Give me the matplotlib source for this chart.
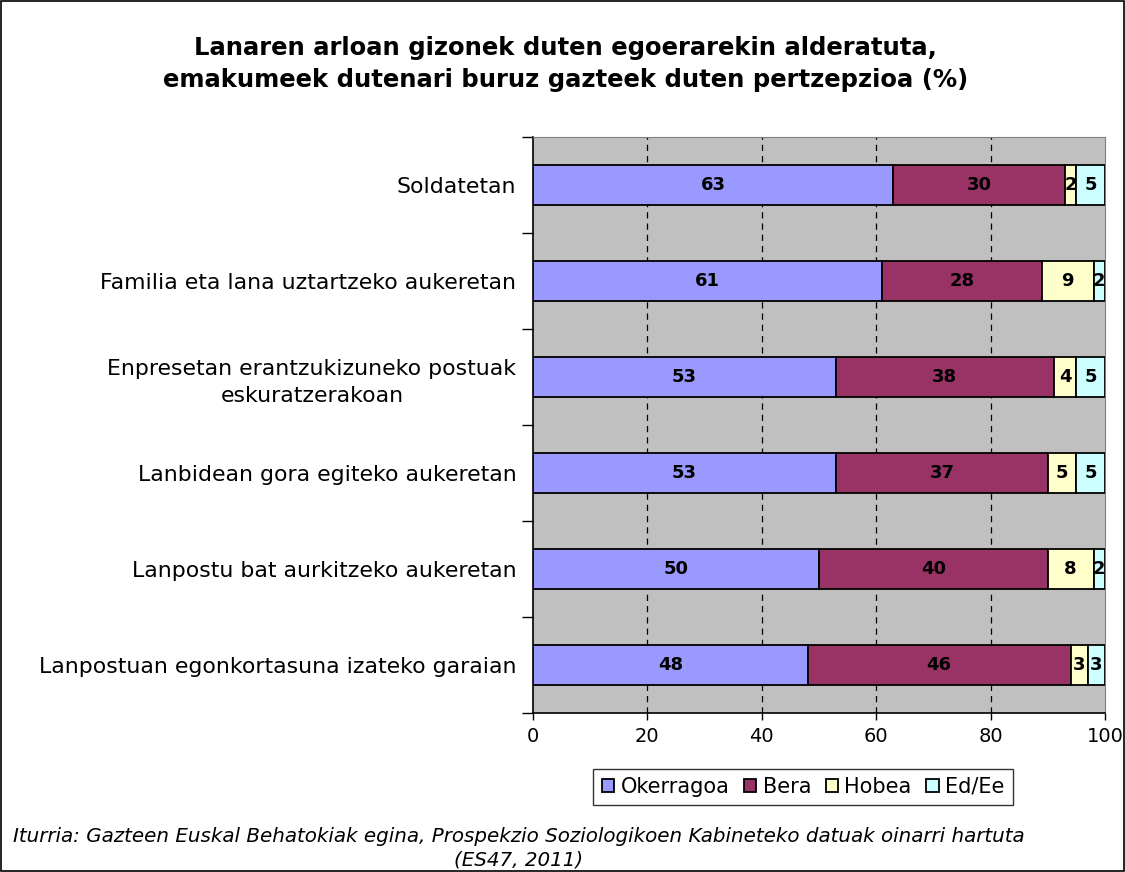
import matplotlib.pyplot as plt
import numpy as np
from matplotlib.patches import Rectangle

categories = ['Soldatetan',
              'Familia eta lana uztartzeko aukeretan',
              'Enpresetan erantzukizuneko postuak\neskuratzerakoan',
              'Lanbidean gora egiteko aukeretan',
              'Lanpostu bat aurkitzeko aukeretan',
              'Lanpostuan egonkortasuna izateko garaian']
okerragoa = [63, 61, 53, 53, 50, 48]
bera = [30, 28, 38, 37, 40, 46]
hobea = [2, 9, 4, 5, 8, 3]
ed_ee = [5, 2, 5, 5, 2, 3]

series = [('Okerragoa', okerragoa, '#9999FF'),
          ('Bera', bera, '#993366'),
          ('Hobea', hobea, '#FFFFCC'),
          ('Ed/Ee', ed_ee, '#CCFFFF')]

fig = plt.figure(figsize=(11.25, 8.72), dpi=100)
ax = fig.add_axes([533 / 1125, 1 - 713 / 872, 572 / 1125, 576 / 872])
ax.set_facecolor('#C0C0C0')

y = np.arange(len(categories))
left = np.zeros(len(categories))
for name, vals, color in series:
    vals = np.array(vals)
    ax.barh(y, vals, left=left, height=0.42, color=color, edgecolor='black',
            linewidth=1.3, label=name, zorder=3)
    for yi, l, v in zip(y, left, vals):
        ax.text(l + v / 2, yi, str(v), ha='center', va='center',
                fontsize=13, fontweight='bold', color='black', zorder=4)
    left = left + vals

ax.set_xlim(0, 100)
ax.set_ylim(len(categories) - 0.5, -0.5)
ax.set_xticks([0, 20, 40, 60, 80, 100])
ax.tick_params(axis='x', labelsize=14, length=5, width=1, pad=5)
for gx in [20, 40, 60, 80]:
    ax.axvline(gx, color='black', linestyle=(0, (5, 4)), linewidth=0.9, zorder=1)

ax.set_yticks(y)
ax.set_yticklabels(categories, fontsize=15.8, ha='right', multialignment='center',
                   linespacing=1.45)
ax.tick_params(axis='y', which='major', length=0, pad=12)
ax.set_yticks(np.arange(-0.5, len(categories)), minor=True)
ax.tick_params(axis='y', which='minor', length=8, width=1)

ax.spines['left'].set_linewidth(1.2)
ax.spines['bottom'].set_linewidth(1.2)
ax.spines['top'].set_color('#808080')
ax.spines['right'].set_color('#808080')

fig.text(0.503, 1 - 64 / 872, 'Lanaren arloan gizonek duten egoerarekin alderatuta,\n'
         'emakumeek dutenari buruz gazteek duten pertzepzioa (%)',
         ha='center', va='center', fontsize=17.5, fontweight='bold', linespacing=1.45)

leg = fig.legend(loc='center', bbox_to_anchor=(803 / 1125, 1 - 787 / 872), ncol=4,
                 fontsize=15, frameon=True, fancybox=False, edgecolor='black',
                 handlelength=0.6, handleheight=0.6, handletextpad=0.3,
                 columnspacing=0.7, borderpad=0.4, borderaxespad=0)
leg.get_frame().set_linewidth(1)

fig.text(519 / 1125, 1 - 848 / 872,
         'Iturria: Gazteen Euskal Behatokiak egina, Prospekzio Soziologikoen Kabineteko datuak oinarri hartuta\n(ES47, 2011)',
         ha='center', va='center', fontsize=14.3, style='italic', linespacing=1.3)

fig.patches.append(Rectangle((0.001, 0.001), 0.998, 0.998, transform=fig.transFigure,
                             fill=False, edgecolor='black', linewidth=1.2))

fig.savefig('out.png', dpi=100)
